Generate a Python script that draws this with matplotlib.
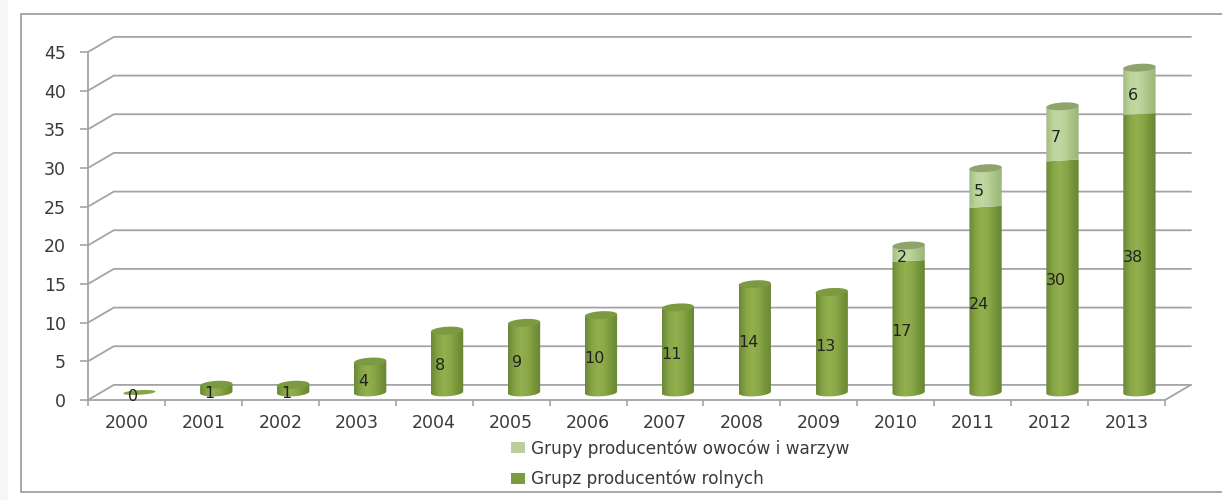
import numpy as np
import matplotlib
matplotlib.use("Agg")
import matplotlib.pyplot as plt
from matplotlib.colors import LinearSegmentedColormap
from matplotlib.patches import Patch, PathPatch, Rectangle
from matplotlib.path import Path

plt.rcParams["font.family"] = ["DejaVu Sans"]

years = ["2000", "2001", "2002", "2003", "2004", "2005", "2006",
         "2007", "2008", "2009", "2010", "2011", "2012", "2013"]
# bar heights as drawn
rolnych = [0, 1, 1, 4, 8, 9, 10, 11, 14, 13, 17, 24, 30, 36]
owoce = [0, 0, 0, 0, 0, 0, 0, 0, 0, 0, 2, 5, 7, 6]
# labels as printed (the 2013 label does not match its bar height)
rolnych_labels = ["0", "1", "1", "4", "8", "9", "10", "11", "14", "13", "17", "24", "30", "38"]
owoce_labels = ["", "", "", "", "", "", "", "", "", "", "2", "5", "7", "6"]
yticks = [0, 5, 10, 15, 20, 25, 30, 35, 40, 45]
legend_names = ["Grupy producentów owoców i warzyw", "Grupz producentów rolnych"]

GRID = "#a4a4a4"
TXT = "#3a3a3a"
DX, DY = 0.335, 1.95   # depth of the fake 3d box, in data units
BW = 0.42              # bar width
EH = 1.0               # ellipse height

dark_map = LinearSegmentedColormap.from_list("d", ["#6a8836", "#86a444", "#93b04f", "#8aa848", "#779639", "#688634"])
light_map = LinearSegmentedColormap.from_list("l", ["#a3bb7f", "#bcd39a", "#c2d8a2", "#b8cf95", "#a9c184", "#9bb577"])

fig = plt.figure(figsize=(12.22, 5), dpi=100)
fig.patch.set_facecolor("white")

# soft strip on the left and the outer frame
fig.add_artist(Rectangle((0, 0), 8 / 1222, 1, transform=fig.transFigure, fc="#f6f6f6", ec="none", zorder=-2))
fig.add_artist(Rectangle((21 / 1222, 8 / 500), 1300 / 1222, 478 / 500, transform=fig.transFigure,
                         fc="white", ec="#a0a0a0", lw=1.3, zorder=-1))

ax = fig.add_axes([88 / 1222, 100 / 500, 1077 / 1222, 348 / 500])
ax.patch.set_alpha(0)


def body(x, y0, y1, cmap, arc=True):
    # cylinder side: gradient image clipped to the outline
    t = np.linspace(np.pi, 2 * np.pi, 30)
    xs = x + BW / 2 * np.cos(t)
    depth = EH / 2 if arc else 0.0
    ys = y0 + depth * np.sin(t) + 0.12 * np.cos(t)
    vx = list(xs) + [x + BW / 2, x - BW / 2, xs[0]]
    vy = list(ys) + [y1 + 0.12, y1 - 0.12, ys[0]]
    clip = PathPatch(Path(np.column_stack([vx, vy]), closed=True), transform=ax.transData, fc="none", ec="none")
    ax.add_patch(clip)
    im = ax.imshow(np.linspace(0, 1, 64).reshape(1, -1), extent=[x - BW / 2, x + BW / 2, y0 - 1, y1 + 1],
                   cmap=cmap, aspect="auto", zorder=3, interpolation="bilinear")
    im.set_clip_path(clip)


def cap(x, y, color, w=BW, h=EH):
    t = np.linspace(0, 2 * np.pi, 60)
    pts = np.column_stack([x + w / 2 * np.cos(t), y + h / 2 * np.sin(t) + 0.12 * np.cos(t)])
    ax.add_patch(PathPatch(Path(pts, closed=True), fc=color, ec="none", zorder=4))


# back wall lines and side wall diagonals
for v in yticks:
    ax.plot([0, DX, 14 + DX], [v, v + DY, v + DY], color=GRID, lw=1.3, clip_on=False, zorder=1)
ax.plot([14, 14 + DX], [0, DY], color=GRID, lw=1.3, clip_on=False, zorder=1)

for i in range(len(years)):
    x = i + 0.5 + DX / 2
    base = DY / 2
    low = rolnych[i]
    up = owoce[i]
    if low == 0 and up == 0:
        cap(x, base, "#86a444", h=0.6)
    else:
        body(x, base, base + low, dark_map)
        if up > 0:
            body(x, base + low, base + low + up, light_map, arc=False)
            cap(x, base + low + up, "#8fa36c")
        else:
            cap(x, base + low, "#7c9a40")
    ax.text(i + 0.58, low / 2 + 0.4, rolnych_labels[i], ha="center", va="center",
            fontsize=11.5, color="#222222", zorder=6)
    if up > 0:
        ax.text(i + 0.58, low + up / 2 + 0.4, owoce_labels[i], ha="center", va="center",
                fontsize=11.5, color="#222222", zorder=6)

ax.set_xlim(0, 14)
ax.set_ylim(0, 45)
for s in ["top", "right"]:
    ax.spines[s].set_visible(False)
for s in ["left", "bottom"]:
    ax.spines[s].set_color(GRID)
    ax.spines[s].set_linewidth(1.3)

ax.set_yticks(yticks)
ax.tick_params(axis="y", length=6, width=1.2, color=GRID, pad=10, labelsize=12.5, labelcolor=TXT)
ax.set_xticks(range(15))
ax.set_xticklabels([])
ax.set_xticks([i + 0.5 for i in range(14)], minor=True)
ax.set_xticklabels(years, minor=True)
ax.tick_params(axis="x", which="major", length=4, width=1.2, color=GRID)
ax.tick_params(axis="x", which="minor", length=0, pad=10, labelsize=12.5, labelcolor=TXT)

handles = [Patch(fc="#b9d09a", ec="none", label=legend_names[0]),
           Patch(fc="#7c9a40", ec="none", label=legend_names[1])]
fig.legend(handles=handles, loc="upper left", bbox_to_anchor=(506 / 1222, 1 - 434 / 500), frameon=False,
           fontsize=12.2, labelcolor=TXT, handlelength=0.8, handleheight=0.6, handletextpad=0.35,
           labelspacing=0.72, borderpad=0.3, borderaxespad=0)

fig.savefig("out.png", dpi=100)
